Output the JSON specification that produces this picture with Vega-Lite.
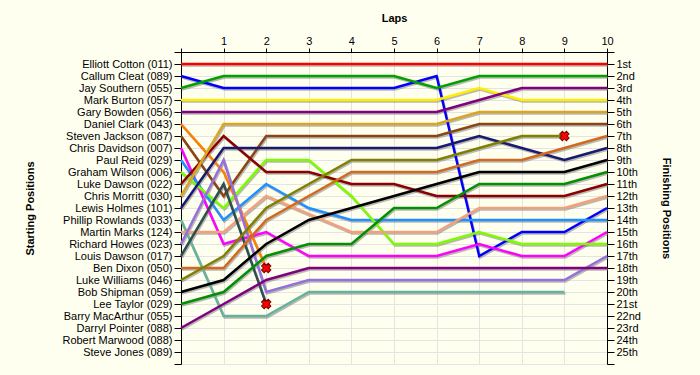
{
  "$schema": "https://vega.github.io/schema/vega-lite/v6.json",
  "autosize": {"type": "none"},
  "padding": {"left": 181, "top": 52, "right": 93, "bottom": 11},
  "width": 426,
  "height": 312,
  "background": "#fffff0",
  "config": {
    "view": {"stroke": null},
    "font": "Liberation Sans",
    "axis": {"labelFont": "Liberation Sans", "labelFontSize": 11, "labelColor": "#000000", "titleFont": "Liberation Sans", "titleFontSize": 11, "titleFontWeight": "bold", "titleColor": "#000000", "domainColor": "#000000", "tickColor": "#000000", "gridColor": "#e4e4e4", "gridWidth": 1}
  },
  "datasets": {
    "laps": [
      {"driver":"Elliott Cotton (011)","lap":0,"pos":1},{"driver":"Elliott Cotton (011)","lap":1,"pos":1},{"driver":"Elliott Cotton (011)","lap":2,"pos":1},{"driver":"Elliott Cotton (011)","lap":3,"pos":1},{"driver":"Elliott Cotton (011)","lap":4,"pos":1},{"driver":"Elliott Cotton (011)","lap":5,"pos":1},{"driver":"Elliott Cotton (011)","lap":6,"pos":1},{"driver":"Elliott Cotton (011)","lap":7,"pos":1},{"driver":"Elliott Cotton (011)","lap":8,"pos":1},{"driver":"Elliott Cotton (011)","lap":9,"pos":1},{"driver":"Elliott Cotton (011)","lap":10,"pos":1},
      {"driver":"Callum Cleat (089)","lap":0,"pos":2},{"driver":"Callum Cleat (089)","lap":1,"pos":3},{"driver":"Callum Cleat (089)","lap":2,"pos":3},{"driver":"Callum Cleat (089)","lap":3,"pos":3},{"driver":"Callum Cleat (089)","lap":4,"pos":3},{"driver":"Callum Cleat (089)","lap":5,"pos":3},{"driver":"Callum Cleat (089)","lap":6,"pos":2},{"driver":"Callum Cleat (089)","lap":7,"pos":17},{"driver":"Callum Cleat (089)","lap":8,"pos":15},{"driver":"Callum Cleat (089)","lap":9,"pos":15},{"driver":"Callum Cleat (089)","lap":10,"pos":13},
      {"driver":"Jay Southern (055)","lap":0,"pos":3},{"driver":"Jay Southern (055)","lap":1,"pos":2},{"driver":"Jay Southern (055)","lap":2,"pos":2},{"driver":"Jay Southern (055)","lap":3,"pos":2},{"driver":"Jay Southern (055)","lap":4,"pos":2},{"driver":"Jay Southern (055)","lap":5,"pos":2},{"driver":"Jay Southern (055)","lap":6,"pos":3},{"driver":"Jay Southern (055)","lap":7,"pos":2},{"driver":"Jay Southern (055)","lap":8,"pos":2},{"driver":"Jay Southern (055)","lap":9,"pos":2},{"driver":"Jay Southern (055)","lap":10,"pos":2},
      {"driver":"Mark Burton (057)","lap":0,"pos":4},{"driver":"Mark Burton (057)","lap":1,"pos":4},{"driver":"Mark Burton (057)","lap":2,"pos":4},{"driver":"Mark Burton (057)","lap":3,"pos":4},{"driver":"Mark Burton (057)","lap":4,"pos":4},{"driver":"Mark Burton (057)","lap":5,"pos":4},{"driver":"Mark Burton (057)","lap":6,"pos":4},{"driver":"Mark Burton (057)","lap":7,"pos":3},{"driver":"Mark Burton (057)","lap":8,"pos":4},{"driver":"Mark Burton (057)","lap":9,"pos":4},{"driver":"Mark Burton (057)","lap":10,"pos":4},
      {"driver":"Gary Bowden (056)","lap":0,"pos":5},{"driver":"Gary Bowden (056)","lap":1,"pos":5},{"driver":"Gary Bowden (056)","lap":2,"pos":5},{"driver":"Gary Bowden (056)","lap":3,"pos":5},{"driver":"Gary Bowden (056)","lap":4,"pos":5},{"driver":"Gary Bowden (056)","lap":5,"pos":5},{"driver":"Gary Bowden (056)","lap":6,"pos":5},{"driver":"Gary Bowden (056)","lap":7,"pos":4},{"driver":"Gary Bowden (056)","lap":8,"pos":3},{"driver":"Gary Bowden (056)","lap":9,"pos":3},{"driver":"Gary Bowden (056)","lap":10,"pos":3},
      {"driver":"Daniel Clark (043)","lap":0,"pos":6},{"driver":"Daniel Clark (043)","lap":1,"pos":10},{"driver":"Daniel Clark (043)","lap":2,"pos":18},
      {"driver":"Steven Jackson (087)","lap":0,"pos":7},{"driver":"Steven Jackson (087)","lap":1,"pos":12},{"driver":"Steven Jackson (087)","lap":2,"pos":7},{"driver":"Steven Jackson (087)","lap":3,"pos":7},{"driver":"Steven Jackson (087)","lap":4,"pos":7},{"driver":"Steven Jackson (087)","lap":5,"pos":7},{"driver":"Steven Jackson (087)","lap":6,"pos":7},{"driver":"Steven Jackson (087)","lap":7,"pos":6},{"driver":"Steven Jackson (087)","lap":8,"pos":6},{"driver":"Steven Jackson (087)","lap":9,"pos":6},{"driver":"Steven Jackson (087)","lap":10,"pos":6},
      {"driver":"Chris Davidson (007)","lap":0,"pos":8},{"driver":"Chris Davidson (007)","lap":1,"pos":16},{"driver":"Chris Davidson (007)","lap":2,"pos":15},{"driver":"Chris Davidson (007)","lap":3,"pos":17},{"driver":"Chris Davidson (007)","lap":4,"pos":17},{"driver":"Chris Davidson (007)","lap":5,"pos":17},{"driver":"Chris Davidson (007)","lap":6,"pos":17},{"driver":"Chris Davidson (007)","lap":7,"pos":16},{"driver":"Chris Davidson (007)","lap":8,"pos":17},{"driver":"Chris Davidson (007)","lap":9,"pos":17},{"driver":"Chris Davidson (007)","lap":10,"pos":15},
      {"driver":"Paul Reid (029)","lap":0,"pos":9},{"driver":"Paul Reid (029)","lap":1,"pos":14},{"driver":"Paul Reid (029)","lap":2,"pos":11},{"driver":"Paul Reid (029)","lap":3,"pos":13},{"driver":"Paul Reid (029)","lap":4,"pos":14},{"driver":"Paul Reid (029)","lap":5,"pos":14},{"driver":"Paul Reid (029)","lap":6,"pos":14},{"driver":"Paul Reid (029)","lap":7,"pos":14},{"driver":"Paul Reid (029)","lap":8,"pos":14},{"driver":"Paul Reid (029)","lap":9,"pos":14},{"driver":"Paul Reid (029)","lap":10,"pos":14},
      {"driver":"Graham Wilson (006)","lap":0,"pos":10},{"driver":"Graham Wilson (006)","lap":1,"pos":13},{"driver":"Graham Wilson (006)","lap":2,"pos":9},{"driver":"Graham Wilson (006)","lap":3,"pos":9},{"driver":"Graham Wilson (006)","lap":4,"pos":12},{"driver":"Graham Wilson (006)","lap":5,"pos":16},{"driver":"Graham Wilson (006)","lap":6,"pos":16},{"driver":"Graham Wilson (006)","lap":7,"pos":15},{"driver":"Graham Wilson (006)","lap":8,"pos":16},{"driver":"Graham Wilson (006)","lap":9,"pos":16},{"driver":"Graham Wilson (006)","lap":10,"pos":16},
      {"driver":"Luke Dawson (022)","lap":0,"pos":11},{"driver":"Luke Dawson (022)","lap":1,"pos":7},{"driver":"Luke Dawson (022)","lap":2,"pos":10},{"driver":"Luke Dawson (022)","lap":3,"pos":10},{"driver":"Luke Dawson (022)","lap":4,"pos":11},{"driver":"Luke Dawson (022)","lap":5,"pos":11},{"driver":"Luke Dawson (022)","lap":6,"pos":12},{"driver":"Luke Dawson (022)","lap":7,"pos":12},{"driver":"Luke Dawson (022)","lap":8,"pos":12},{"driver":"Luke Dawson (022)","lap":9,"pos":12},{"driver":"Luke Dawson (022)","lap":10,"pos":11},
      {"driver":"Chris Morritt (030)","lap":0,"pos":12},{"driver":"Chris Morritt (030)","lap":1,"pos":6},{"driver":"Chris Morritt (030)","lap":2,"pos":6},{"driver":"Chris Morritt (030)","lap":3,"pos":6},{"driver":"Chris Morritt (030)","lap":4,"pos":6},{"driver":"Chris Morritt (030)","lap":5,"pos":6},{"driver":"Chris Morritt (030)","lap":6,"pos":6},{"driver":"Chris Morritt (030)","lap":7,"pos":5},{"driver":"Chris Morritt (030)","lap":8,"pos":5},{"driver":"Chris Morritt (030)","lap":9,"pos":5},{"driver":"Chris Morritt (030)","lap":10,"pos":5},
      {"driver":"Lewis Holmes (101)","lap":0,"pos":13},{"driver":"Lewis Holmes (101)","lap":1,"pos":8},{"driver":"Lewis Holmes (101)","lap":2,"pos":8},{"driver":"Lewis Holmes (101)","lap":3,"pos":8},{"driver":"Lewis Holmes (101)","lap":4,"pos":8},{"driver":"Lewis Holmes (101)","lap":5,"pos":8},{"driver":"Lewis Holmes (101)","lap":6,"pos":8},{"driver":"Lewis Holmes (101)","lap":7,"pos":7},{"driver":"Lewis Holmes (101)","lap":8,"pos":8},{"driver":"Lewis Holmes (101)","lap":9,"pos":9},{"driver":"Lewis Holmes (101)","lap":10,"pos":8},
      {"driver":"Phillip Rowlands (033)","lap":0,"pos":14},{"driver":"Phillip Rowlands (033)","lap":1,"pos":22},{"driver":"Phillip Rowlands (033)","lap":2,"pos":22},{"driver":"Phillip Rowlands (033)","lap":3,"pos":20},{"driver":"Phillip Rowlands (033)","lap":4,"pos":20},{"driver":"Phillip Rowlands (033)","lap":5,"pos":20},{"driver":"Phillip Rowlands (033)","lap":6,"pos":20},{"driver":"Phillip Rowlands (033)","lap":7,"pos":20},{"driver":"Phillip Rowlands (033)","lap":8,"pos":20},{"driver":"Phillip Rowlands (033)","lap":9,"pos":20},
      {"driver":"Martin Marks (124)","lap":0,"pos":15},{"driver":"Martin Marks (124)","lap":1,"pos":15},{"driver":"Martin Marks (124)","lap":2,"pos":12},{"driver":"Martin Marks (124)","lap":3,"pos":13.5},{"driver":"Martin Marks (124)","lap":4,"pos":15},{"driver":"Martin Marks (124)","lap":5,"pos":15},{"driver":"Martin Marks (124)","lap":6,"pos":15},{"driver":"Martin Marks (124)","lap":7,"pos":13},{"driver":"Martin Marks (124)","lap":8,"pos":13},{"driver":"Martin Marks (124)","lap":9,"pos":13},{"driver":"Martin Marks (124)","lap":10,"pos":12},
      {"driver":"Richard Howes (023)","lap":0,"pos":16},{"driver":"Richard Howes (023)","lap":1,"pos":9},{"driver":"Richard Howes (023)","lap":2,"pos":20},{"driver":"Richard Howes (023)","lap":3,"pos":19},{"driver":"Richard Howes (023)","lap":4,"pos":19},{"driver":"Richard Howes (023)","lap":5,"pos":19},{"driver":"Richard Howes (023)","lap":6,"pos":19},{"driver":"Richard Howes (023)","lap":7,"pos":19},{"driver":"Richard Howes (023)","lap":8,"pos":19},{"driver":"Richard Howes (023)","lap":9,"pos":19},{"driver":"Richard Howes (023)","lap":10,"pos":17},
      {"driver":"Louis Dawson (017)","lap":0,"pos":17},{"driver":"Louis Dawson (017)","lap":1,"pos":11},{"driver":"Louis Dawson (017)","lap":2,"pos":21},
      {"driver":"Ben Dixon (050)","lap":0,"pos":18},{"driver":"Ben Dixon (050)","lap":1,"pos":18},{"driver":"Ben Dixon (050)","lap":2,"pos":14},{"driver":"Ben Dixon (050)","lap":3,"pos":12},{"driver":"Ben Dixon (050)","lap":4,"pos":10},{"driver":"Ben Dixon (050)","lap":5,"pos":10},{"driver":"Ben Dixon (050)","lap":6,"pos":10},{"driver":"Ben Dixon (050)","lap":7,"pos":9},{"driver":"Ben Dixon (050)","lap":8,"pos":9},{"driver":"Ben Dixon (050)","lap":9,"pos":8},{"driver":"Ben Dixon (050)","lap":10,"pos":7},
      {"driver":"Luke Williams (046)","lap":0,"pos":19},{"driver":"Luke Williams (046)","lap":1,"pos":17},{"driver":"Luke Williams (046)","lap":2,"pos":13},{"driver":"Luke Williams (046)","lap":3,"pos":11},{"driver":"Luke Williams (046)","lap":4,"pos":9},{"driver":"Luke Williams (046)","lap":5,"pos":9},{"driver":"Luke Williams (046)","lap":6,"pos":9},{"driver":"Luke Williams (046)","lap":7,"pos":8},{"driver":"Luke Williams (046)","lap":8,"pos":7},{"driver":"Luke Williams (046)","lap":9,"pos":7},
      {"driver":"Bob Shipman (059)","lap":0,"pos":20},{"driver":"Bob Shipman (059)","lap":1,"pos":19},{"driver":"Bob Shipman (059)","lap":2,"pos":16},{"driver":"Bob Shipman (059)","lap":3,"pos":14},{"driver":"Bob Shipman (059)","lap":4,"pos":13},{"driver":"Bob Shipman (059)","lap":5,"pos":12},{"driver":"Bob Shipman (059)","lap":6,"pos":11},{"driver":"Bob Shipman (059)","lap":7,"pos":10},{"driver":"Bob Shipman (059)","lap":8,"pos":10},{"driver":"Bob Shipman (059)","lap":9,"pos":10},{"driver":"Bob Shipman (059)","lap":10,"pos":9},
      {"driver":"Lee Taylor (029)","lap":0,"pos":21},{"driver":"Lee Taylor (029)","lap":1,"pos":20},{"driver":"Lee Taylor (029)","lap":2,"pos":17},{"driver":"Lee Taylor (029)","lap":3,"pos":16},{"driver":"Lee Taylor (029)","lap":4,"pos":16},{"driver":"Lee Taylor (029)","lap":5,"pos":13},{"driver":"Lee Taylor (029)","lap":6,"pos":13},{"driver":"Lee Taylor (029)","lap":7,"pos":11},{"driver":"Lee Taylor (029)","lap":8,"pos":11},{"driver":"Lee Taylor (029)","lap":9,"pos":11},{"driver":"Lee Taylor (029)","lap":10,"pos":10},
      {"driver":"Darryl Pointer (088)","lap":0,"pos":23},{"driver":"Darryl Pointer (088)","lap":1,"pos":21},{"driver":"Darryl Pointer (088)","lap":2,"pos":19},{"driver":"Darryl Pointer (088)","lap":3,"pos":18},{"driver":"Darryl Pointer (088)","lap":4,"pos":18},{"driver":"Darryl Pointer (088)","lap":5,"pos":18},{"driver":"Darryl Pointer (088)","lap":6,"pos":18},{"driver":"Darryl Pointer (088)","lap":7,"pos":18},{"driver":"Darryl Pointer (088)","lap":8,"pos":18},{"driver":"Darryl Pointer (088)","lap":9,"pos":18},{"driver":"Darryl Pointer (088)","lap":10,"pos":18}
    ],
    "retired": [
      {"driver":"Daniel Clark (043)","lap":2,"pos":18},
      {"driver":"Louis Dawson (017)","lap":2,"pos":21},
      {"driver":"Luke Williams (046)","lap":9,"pos":7}
    ]
  },
  "encoding": {
    "x": {"field": "lap", "type": "quantitative", "scale": {"domain": [0, 10], "nice": false, "zero": false},
      "axis": {"orient": "top", "values": [0,1,2,3,4,5,6,7,8,9,10], "labelExpr": "datum.value == 0 ? '' : datum.label", "tickSize": 4, "labelPadding": 2, "title": "Laps", "titleY": -34, "titleBaseline": "middle", "grid": true, "labelFlush": false}}
  },
  "layer": [
    {
      "data": {"name": "laps"},
      "mark": {"type": "line", "color": "#808080", "opacity": 0.55, "strokeWidth": 2.5, "xOffset": 1, "yOffset": 1.5, "interpolate": "linear"},
      "encoding": {
        "y": {"field": "pos", "type": "quantitative", "scale": {"domain": [0, 26], "reverse": true, "nice": false, "zero": false},
          "axis": {"orient": "left", "values": [0,1,2,3,4,5,6,7,8,9,10,11,12,13,14,15,16,17,18,19,20,21,22,23,24,25,26],
            "labelExpr": "['', 'Elliott Cotton (011)', 'Callum Cleat (089)', 'Jay Southern (055)', 'Mark Burton (057)', 'Gary Bowden (056)', 'Daniel Clark (043)', 'Steven Jackson (087)', 'Chris Davidson (007)', 'Paul Reid (029)', 'Graham Wilson (006)', 'Luke Dawson (022)', 'Chris Morritt (030)', 'Lewis Holmes (101)', 'Phillip Rowlands (033)', 'Martin Marks (124)', 'Richard Howes (023)', 'Louis Dawson (017)', 'Ben Dixon (050)', 'Luke Williams (046)', 'Bob Shipman (059)', 'Lee Taylor (029)', 'Barry MacArthur (055)', 'Darryl Pointer (088)', 'Robert Marwood (088)', 'Steve Jones (089)', ''][datum.value]",
            "tickSize": 7, "labelPadding": 2, "labelFlush": false, "labelOverlap": false, "title": "Starting Positions", "titleX": -151, "titleY": 156, "titleBaseline": "middle", "grid": true}},
        "detail": {"field": "driver", "type": "nominal"}
      }
    },
    {
      "data": {"name": "laps"},
      "mark": {"type": "line", "strokeWidth": 2.5, "interpolate": "linear"},
      "encoding": {
        "y": {"field": "pos", "type": "quantitative",
          "axis": {"orient": "right", "values": [0,1,2,3,4,5,6,7,8,9,10,11,12,13,14,15,16,17,18,19,20,21,22,23,24,25,26],
            "labelExpr": "datum.value < 1 || datum.value > 25 ? '' : datum.value + ((datum.value == 1 || datum.value == 21) ? 'st' : (datum.value == 2 || datum.value == 22) ? 'nd' : (datum.value == 3 || datum.value == 23) ? 'rd' : 'th')",
            "tickSize": 7, "labelPadding": 2, "labelFlush": false, "labelOverlap": false, "title": "Finishing Positions", "titleX": 58, "titleY": 156, "titleBaseline": "middle", "grid": false}},
        "color": {"field": "driver", "type": "nominal", "legend": null,
          "scale": {
            "domain": ["Elliott Cotton (011)", "Callum Cleat (089)", "Jay Southern (055)", "Mark Burton (057)", "Gary Bowden (056)", "Daniel Clark (043)", "Steven Jackson (087)", "Chris Davidson (007)", "Paul Reid (029)", "Graham Wilson (006)", "Luke Dawson (022)", "Chris Morritt (030)", "Lewis Holmes (101)", "Phillip Rowlands (033)", "Martin Marks (124)", "Richard Howes (023)", "Louis Dawson (017)", "Ben Dixon (050)", "Luke Williams (046)", "Bob Shipman (059)", "Lee Taylor (029)", "Darryl Pointer (088)"],
            "range": ["#ff0000", "#0000ff", "#00a000", "#ffee00", "#800080", "#ff8000", "#8b4513", "#ff00ff", "#1e90ff", "#7cfc00", "#8b0000", "#daa520", "#191970", "#66b39b", "#f4a07a", "#9370db", "#2f4f4f", "#d2691e", "#808000", "#000000", "#009000", "#800080"]}}
      }
    },
    {
      "data": {"name": "retired"},
      "mark": {"type": "point", "shape": "cross", "angle": 45, "size": 90, "filled": true, "fill": "#ff0000", "stroke": "#700000", "strokeWidth": 1, "opacity": 1},
      "encoding": {
        "y": {"field": "pos", "type": "quantitative", "axis": null}
      }
    }
  ],
  "resolve": {"axis": {"y": "independent"}}
}
